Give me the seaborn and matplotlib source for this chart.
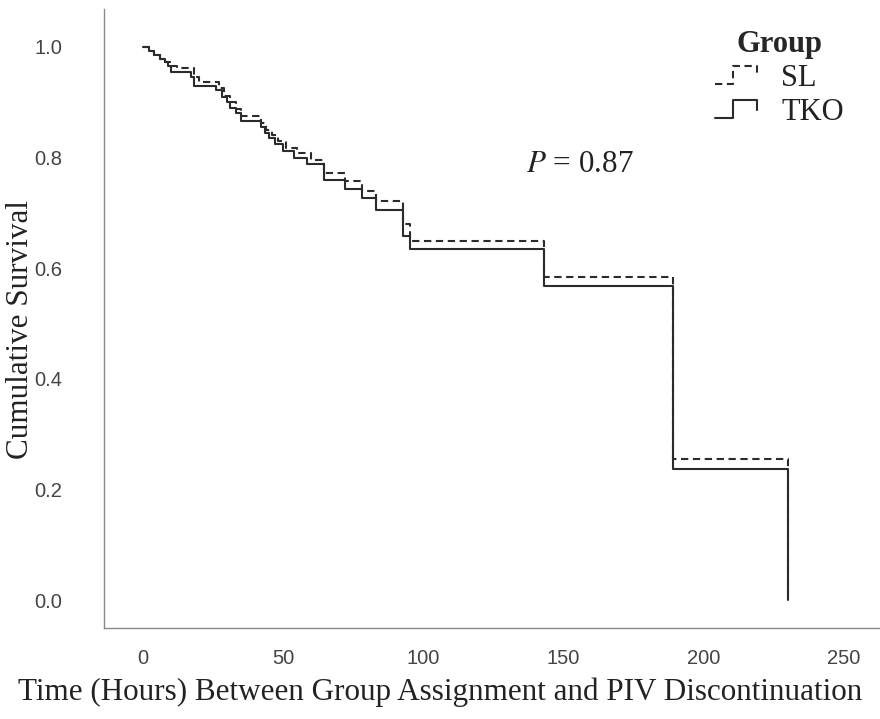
import numpy as np
import pandas as pd
import matplotlib
matplotlib.use("Agg")
import matplotlib.pyplot as plt
import seaborn as sns
from matplotlib.legend_handler import HandlerBase
from matplotlib.lines import Line2D

# ---- data ----
tko_time = [0, 2, 4, 6, 8, 9, 10, 17, 18, 26, 28, 30, 31, 33, 35, 42, 43.5, 45, 47, 50, 54,
            58.6, 64.5, 72, 78, 83, 92.6, 95.3, 143, 189, 230]
tko_surv = [1.0, 0.993, 0.986, 0.979, 0.972, 0.965, 0.955, 0.945, 0.930, 0.922, 0.910, 0.900,
            0.890, 0.880, 0.867, 0.855, 0.845, 0.835, 0.824, 0.811, 0.800,
            0.788, 0.760, 0.744, 0.726, 0.705, 0.658, 0.634, 0.567, 0.237, 0.0]

sl_time = [0, 2, 4, 6, 8, 10, 12, 18, 20, 27, 29, 31, 33, 35, 42, 44, 46, 48, 51, 55, 60,
           64.5, 72, 78, 83, 92.6, 95.3, 143, 189, 230]
sl_surv = [1.0, 0.993, 0.986, 0.979, 0.972, 0.966, 0.962, 0.945, 0.936, 0.925, 0.912, 0.900,
           0.888, 0.876, 0.862, 0.850, 0.840, 0.830, 0.818, 0.809, 0.796,
           0.773, 0.757, 0.740, 0.722, 0.680, 0.649, 0.584, 0.255, 0.0]

groups = ["SL", "TKO"]
x_ticks = [0, 50, 100, 150, 200, 250]
y_ticks = [0.0, 0.2, 0.4, 0.6, 0.8, 1.0]
p_label = "$P$ = 0.87"

df = pd.concat([
    pd.DataFrame({"t": sl_time, "s": sl_surv, "Group": "SL"}),
    pd.DataFrame({"t": tko_time, "s": tko_surv, "Group": "TKO"}),
], ignore_index=True)

sns.set_style("white")
plt.rcParams["mathtext.fontset"] = "stix"

fig = plt.figure(figsize=(8.8, 7.19), dpi=100)
ax = fig.add_axes([0.118, 0.127, 0.882, 0.86])

line_color = "#2b2b2b"
sns.lineplot(data=df, x="t", y="s", style="Group", style_order=groups,
             dashes={"SL": (3.5, 2.2), "TKO": ""}, color=line_color,
             drawstyle="steps-post", estimator=None, sort=False,
             linewidth=1.5, ax=ax, legend=False)

ax.set_xlim(-14, 263)
ax.set_ylim(-0.05, 1.068)
ax.set_xticks(x_ticks)
ax.set_yticks(y_ticks)
tick_kw = dict(fontfamily="Liberation Sans", fontsize=14.5, color="#444444")
ax.set_xticklabels([str(v) for v in x_ticks], **tick_kw)
ax.set_yticklabels([f"{v:.1f}" for v in y_ticks], **tick_kw)
ax.tick_params(axis="x", length=0, pad=15)
ax.tick_params(axis="y", length=0, pad=30)

for side in ["top", "right"]:
    ax.spines[side].set_visible(False)
for side in ["left", "bottom"]:
    ax.spines[side].set_color("#8a8a8a")
    ax.spines[side].set_linewidth(1.0)

ax.set_xlabel("Time (Hours) Between Group Assignment and PIV Discontinuation",
              fontfamily="Liberation Serif", fontsize=22.4, color="#222222")
ax.xaxis.set_label_coords(0.433, -0.081)
ax.set_ylabel("Cumulative Survival", fontfamily="Liberation Serif", fontsize=22.4,
              color="#222222")
ax.yaxis.set_label_coords(-0.089, 0.482)

ax.text(136.5, 0.787, p_label, fontfamily="Liberation Serif", fontsize=22.4,
        color="#222222", ha="left", va="center")


class StepHandler(HandlerBase):
    def create_artists(self, legend, orig_handle, xdescent, ydescent, width, height, fontsize, trans):
        xs = np.array([0.0, 0.42, 0.42, 1.0, 1.0]) * width - xdescent
        ys = np.array([0.0, 0.0, 1.0, 1.0, 0.45]) * height - ydescent
        ln = Line2D(xs, ys, color=orig_handle.get_color(), linestyle=orig_handle.get_linestyle(),
                    linewidth=1.5)
        if orig_handle.get_linestyle() == "--":
            ln.set_dashes((3.5, 2.2))
        ln.set_transform(trans)
        return [ln]


handles = [Line2D([], [], color=line_color, linestyle="--"),
           Line2D([], [], color=line_color, linestyle="-")]
leg = ax.legend(handles, groups, title="Group", loc="upper left",
                bbox_to_anchor=(0.8125, 0.958), bbox_transform=fig.transFigure,
                frameon=False, handler_map={Line2D: StepHandler()},
                prop={"family": "Liberation Serif", "size": 22},
                borderpad=0, borderaxespad=0,
                handlelength=1.37, handleheight=0.55, handletextpad=0.8, labelspacing=0.16)
leg.get_title().set_fontfamily("Liberation Serif")
leg.get_title().set_fontsize(22)
leg.get_title().set_fontweight("bold")
for t in leg.get_texts():
    t.set_color("#222222")

fig.savefig("out.png", dpi=100)
